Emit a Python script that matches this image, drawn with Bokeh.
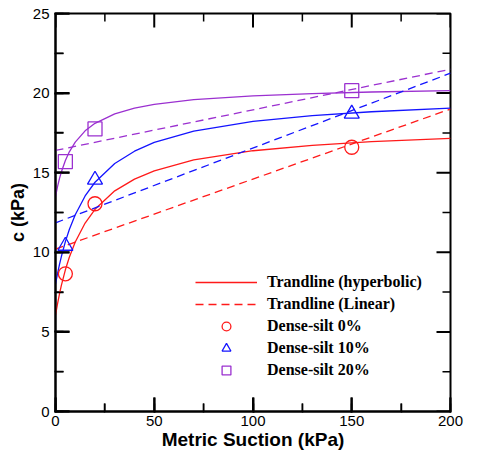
from bokeh.plotting import figure
from bokeh.models import Range1d, SingleIntervalTicker, Legend, LegendItem
from bokeh.embed import file_html
from bokeh.resources import INLINE

# ---- data ----
suction_pts = [5, 20, 150]
c_silt0 = [8.65, 13.05, 16.6]
c_silt10 = [10.4, 14.55, 18.7]
c_silt20 = [15.7, 17.75, 20.15]

# hyperbolic trendlines (sampled along the curves)
curve_s = [0, 1, 2, 3, 5, 7, 10, 15, 20, 30, 40, 50, 70, 100, 130, 160, 200]
hyp_silt0 = [6.05, 6.75, 7.38, 7.94, 8.90, 9.69, 10.65, 11.84, 12.70, 13.86, 14.60, 15.12, 15.80, 16.38, 16.72, 16.95, 17.15]
hyp_silt10 = [8.0, 8.65, 9.23, 9.75, 10.67, 11.43, 12.36, 13.54, 14.40, 15.58, 16.35, 16.90, 17.61, 18.23, 18.59, 18.83, 19.05]
hyp_silt20 = [13.5, 14.11, 14.63, 15.06, 15.77, 16.31, 16.92, 17.63, 18.10, 18.69, 19.05, 19.29, 19.59, 19.83, 19.97, 20.07, 20.15]

# linear trendlines (end points)
lin_s = [0, 200]
lin_silt0 = [10.2, 19.0]
lin_silt10 = [11.85, 21.25]
lin_silt20 = [16.4, 21.5]

# axis ticks
x_major = [0, 50, 100, 150, 200]
x_minor = [25, 75, 125, 175]
y_major = [0, 5, 10, 15, 20, 25]
y_minor = [2.5, 7.5, 12.5, 17.5, 22.5]
X_MIN, X_MAX = 0, 200
Y_MIN, Y_MAX = 0, 25

RED = "#ff1a1a"
BLUE = "#1414ff"
PURPLE = "#9b30d0"

# layout (pixels)
W, H = 464, 455
B_LEFT, B_RIGHT, B_TOP, B_BOTTOM = 55, 14, 13, 44
MAJOR_LEN, MINOR_LEN = 14, 8
frame_w = W - B_LEFT - B_RIGHT
frame_h = H - B_TOP - B_BOTTOM
dx_major = MAJOR_LEN * (X_MAX - X_MIN) / frame_w
dx_minor = MINOR_LEN * (X_MAX - X_MIN) / frame_w
dy_major = MAJOR_LEN * (Y_MAX - Y_MIN) / frame_h
dy_minor = MINOR_LEN * (Y_MAX - Y_MIN) / frame_h

p = figure(width=W, height=H, output_backend="svg", toolbar_location=None,
           x_range=Range1d(X_MIN, X_MAX), y_range=Range1d(Y_MIN, Y_MAX),
           min_border_left=B_LEFT, min_border_right=B_RIGHT,
           min_border_top=B_TOP, min_border_bottom=B_BOTTOM)
p.outline_line_color = "black"
p.outline_line_width = 2
p.xgrid.visible = False
p.ygrid.visible = False

p.xaxis.ticker = SingleIntervalTicker(interval=50, num_minor_ticks=2)
p.yaxis.ticker = SingleIntervalTicker(interval=5, num_minor_ticks=2)

for ax in list(p.xaxis) + list(p.yaxis):
    ax.axis_line_width = 2
    ax.axis_line_color = "black"
    ax.major_tick_in = MAJOR_LEN
    ax.major_tick_out = 1
    ax.minor_tick_in = MINOR_LEN
    ax.minor_tick_out = 1
    ax.major_tick_line_width = 2
    ax.minor_tick_line_width = 1.5
    ax.major_tick_line_color = "black"
    ax.minor_tick_line_color = "black"
    ax.major_label_text_font = "Liberation Sans"
    ax.major_label_text_font_size = "15px"
    ax.major_label_text_color = "black"
    ax.axis_label_text_font = "Liberation Sans"
    ax.axis_label_text_font_style = "bold"
    ax.axis_label_text_color = "black"

p.xaxis.axis_label = "Metric Suction (kPa)"
p.xaxis.axis_label_text_font_size = "19px"
p.xaxis.major_label_standoff = 3
p.xaxis.axis_label_standoff = 0
p.yaxis.axis_label = "c (kPa)"
p.yaxis.axis_label_text_font_size = "18px"
p.yaxis.major_label_standoff = 5
p.yaxis.axis_label_standoff = 2

# inward tick marks on all four sides (drawn from the tick lists)
def ticks_v(vals, x_edge, length, width):
    sign = 1 if x_edge == X_MIN else -1
    p.segment(x0=[x_edge] * len(vals), y0=vals, x1=[x_edge + sign * length] * len(vals), y1=vals,
              line_color="black", line_width=width)

def ticks_h(vals, y_edge, length, width):
    sign = 1 if y_edge == Y_MIN else -1
    p.segment(x0=vals, y0=[y_edge] * len(vals), x1=vals, y1=[y_edge + sign * length] * len(vals),
              line_color="black", line_width=width)

for e in (X_MIN, X_MAX):
    ticks_v(y_major, e, dx_major, 2)
    ticks_v(y_minor, e, dx_minor, 1.5)
for e in (Y_MIN, Y_MAX):
    ticks_h(x_major, e, dy_major, 2)
    ticks_h(x_minor, e, dy_minor, 1.5)

# trendlines
r_h0 = p.line(curve_s, hyp_silt0, line_color=RED, line_width=1.3)
p.line(curve_s, hyp_silt10, line_color=BLUE, line_width=1.3)
p.line(curve_s, hyp_silt20, line_color=PURPLE, line_width=1.3)

r_l0 = p.line(lin_s, lin_silt0, line_color=RED, line_width=1.3, line_dash="8 5")
p.line(lin_s, lin_silt10, line_color=BLUE, line_width=1.3, line_dash="8 5")
p.line(lin_s, lin_silt20, line_color=PURPLE, line_width=1.3, line_dash="8 5")

# data points
r_p0 = p.scatter(suction_pts, c_silt0, marker="circle", size=14, fill_color=None,
                 line_color=RED, line_width=1.3)
r_p10 = p.scatter(suction_pts, c_silt10, marker="triangle", size=15, fill_color=None,
                  line_color=BLUE, line_width=1.3)
r_p20 = p.scatter(suction_pts, c_silt20, marker="square", size=14, fill_color=None,
                  line_color=PURPLE, line_width=1.3)

legend = Legend(items=[
    LegendItem(label="Trandline (hyperbolic)", renderers=[r_h0]),
    LegendItem(label="Trandline (Linear)", renderers=[r_l0]),
    LegendItem(label="Dense-silt 0%", renderers=[r_p0]),
    LegendItem(label="Dense-silt 10%", renderers=[r_p10]),
    LegendItem(label="Dense-silt 20%", renderers=[r_p20]),
], location=(140, 30))
legend.label_text_font = "Liberation Serif"
legend.label_text_font_style = "bold"
legend.label_text_font_size = "16px"
legend.label_text_color = "black"
legend.glyph_width = 62
legend.glyph_height = 22
legend.label_height = 22
legend.label_standoff = 10
legend.spacing = 0
legend.padding = 0
legend.margin = 0
legend.border_line_alpha = 0
legend.background_fill_alpha = 0
p.add_layout(legend, "center")

open("out.html", "w").write(file_html(p, INLINE))
